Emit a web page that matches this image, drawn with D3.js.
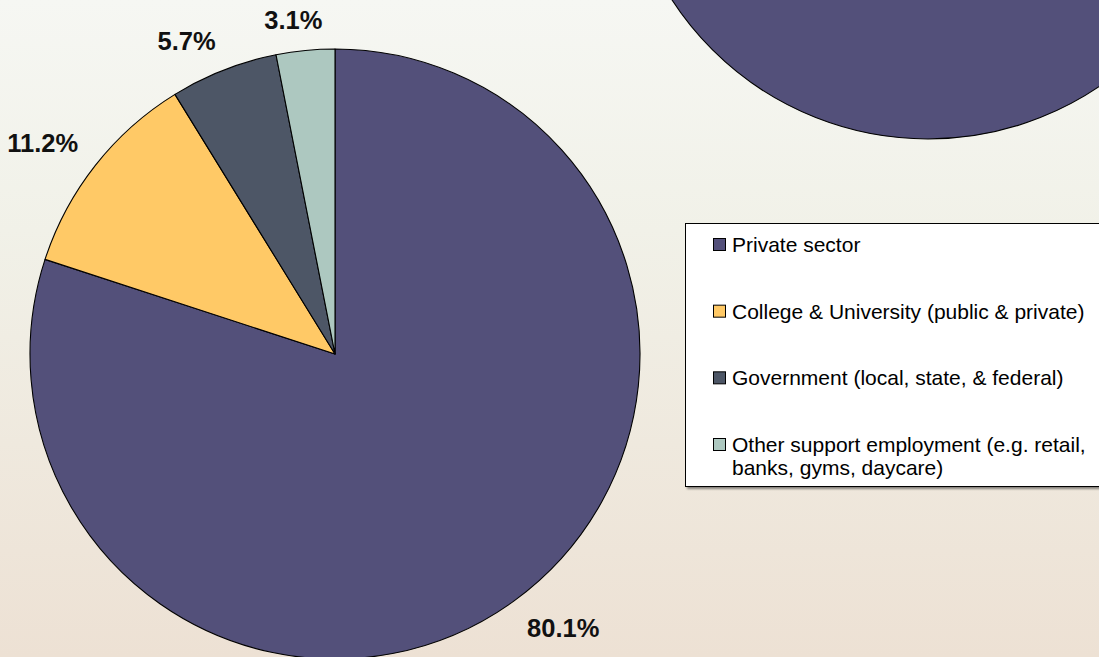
<!DOCTYPE html>
<html>
<head>
<meta charset="utf-8">
<script src="https://cdn.jsdelivr.net/npm/d3@7"></script>
<style>
  html, body { margin: 0; padding: 0; overflow: hidden; }
  svg { display: block; }
</style>
</head>
<body>
<svg id="chart" width="1099" height="657"></svg>
<script>
// Employment shares by sector (percent)
const categories = [
  "Private sector",
  "College & University (public & private)",
  "Government (local, state, & federal)",
  "Other support employment (e.g. retail, banks, gyms, daycare)"
];
const legendLines = [
  ["Private sector"],
  ["College & University (public & private)"],
  ["Government (local, state, & federal)"],
  ["Other support employment (e.g. retail,", "banks, gyms, daycare)"]
];
const values = [80.1, 11.2, 5.7, 3.1];
const colors = ["#53507a", "#ffc966", "#4d5666", "#adc8c0"];

// Companion pie (only its lower part is in view)
const secondaryValues = [100];

const W = 1099, H = 657;
const svg = d3.select("#chart");

// Background wash
const defs = svg.append("defs");
const bg = defs.append("linearGradient").attr("id", "bg")
  .attr("x1", 0).attr("y1", 0).attr("x2", 0).attr("y2", 1);
bg.append("stop").attr("offset", "0%").attr("stop-color", "#f6f7f3");
bg.append("stop").attr("offset", "35%").attr("stop-color", "#f1f1e8");
bg.append("stop").attr("offset", "100%").attr("stop-color", "#ede1d4");
svg.append("rect").attr("width", W).attr("height", H).attr("fill", "url(#bg)");

const shadow = defs.append("filter").attr("id", "shadow")
  .attr("x", "-5%").attr("y", "-5%").attr("width", "115%").attr("height", "115%");
shadow.append("feDropShadow").attr("dx", 2).attr("dy", 2).attr("stdDeviation", 0.8)
  .attr("flood-color", "#000").attr("flood-opacity", 0.45);

// Main pie
const cx = 335, cy = 354, r = 305;
const pie = d3.pie().sort(null).value(d => d).startAngle(0).endAngle(2 * Math.PI);
const arc = d3.arc().innerRadius(0).outerRadius(r);
const arcs = pie(values);

const g = svg.append("g").attr("transform", `translate(${cx},${cy})`);
g.selectAll("path.slice")
  .data(arcs)
  .join("path")
  .attr("class", "slice")
  .attr("d", arc)
  .attr("fill", (d, i) => colors[i])
  .attr("stroke", "#000")
  .attr("stroke-width", 1.1)
  .attr("stroke-linejoin", "round");

// Percentage labels outside each slice
const labelFont = 25.5;
const capH = labelFont * 0.716;
const clamp = v => Math.max(-1, Math.min(1, v));
const labels = g.selectAll("text.pct")
  .data(arcs)
  .join("text")
  .attr("class", "pct")
  .attr("text-anchor", "middle")
  .attr("font-family", "Liberation Sans, Arial, sans-serif")
  .attr("font-weight", "bold")
  .attr("font-size", labelFont)
  .attr("fill", "#111")
  .text(d => d3.format(".1f")(d.data) + "%");

labels.each(function (d) {
  const a = (d.startAngle + d.endAngle) / 2;
  const s = Math.sin(a), c = Math.cos(a);
  const px = (r + 22) * s, py = -(r + 22) * c;
  const w = this.getComputedTextLength();
  const bx = px + clamp(s * 3.5) * w / 2;
  const by = py + clamp(-c * 3.5) * capH / 2;
  d3.select(this).attr("x", bx).attr("y", by + capH / 2);
});

// Companion pie in the upper right
const arc2 = d3.arc().innerRadius(0).outerRadius(r);
svg.append("g").attr("transform", `translate(928,${-166})`)
  .selectAll("path")
  .data(pie(secondaryValues))
  .join("path")
  .attr("d", arc2)
  .attr("fill", colors[0])
  .attr("stroke", "#000")
  .attr("stroke-width", 1.1);

// Legend
const lg = svg.append("g");
lg.append("rect")
  .attr("x", 685.5).attr("y", 223.5)
  .attr("width", 430).attr("height", 263)
  .attr("fill", "#fff")
  .attr("stroke", "#000")
  .attr("stroke-width", 1)
  .attr("filter", "url(#shadow)");

const rowY = d3.scaleLinear().domain([0, categories.length - 1]).range([252, 452]);
const items = lg.selectAll("g.item")
  .data(categories)
  .join("g")
  .attr("class", "item")
  .attr("transform", (d, i) => `translate(0,${rowY(i)})`);

items.append("rect")
  .attr("x", 713.5).attr("y", -13.5)
  .attr("width", 12).attr("height", 12)
  .attr("fill", (d, i) => colors[i])
  .attr("stroke", "#000")
  .attr("stroke-width", 1);

items.append("text")
  .attr("font-family", "Liberation Sans, Arial, sans-serif")
  .attr("font-size", 21)
  .attr("fill", "#000")
  .selectAll("tspan")
  .data((d, i) => legendLines[i])
  .join("tspan")
  .attr("x", 732)
  .attr("y", (d, j) => j * 23)
  .text(d => d);
</script>
</body>
</html>
